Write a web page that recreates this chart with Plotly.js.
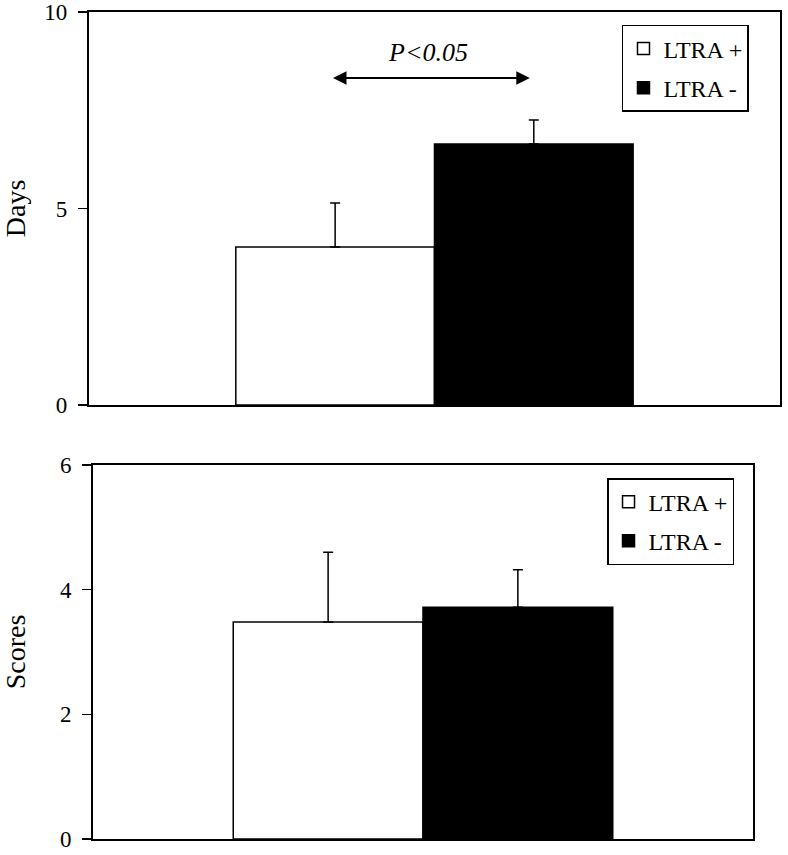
<!DOCTYPE html>
<html><head><meta charset="utf-8">
<script src="https://cdn.plot.ly/plotly-3.0.1.min.js"></script>
<style>body{margin:0;background:#fff}#chart{width:788px;height:855px}</style>
</head><body><div id="chart"></div>
<script>
const groups = ['LTRA +', 'LTRA -'];
const daysMean = [4.02, 6.64];
const daysErr = [1.12, 0.61];
const scoresMean = [3.48, 3.72];
const scoresErr = [1.12, 0.60];
const fills = ['#ffffff', '#000000'];
const category = ['group'];
const pLabel = 'P&lt;0.05';

const serif = 'Liberation Serif, Times New Roman, serif';
const traces = [];
groups.forEach((g, i) => {
  traces.push({
    type: 'bar', x: category, y: [daysMean[i]], name: g,
    xaxis: 'x', yaxis: 'y', legend: 'legend', legendgroup: 'top' + i,
    marker: {color: fills[i], line: {color: '#000', width: 1.5}},
    error_y: {type: 'data', symmetric: false, array: [daysErr[i]], arrayminus: [0],
              color: '#000', thickness: 1.5, width: 5},
    hoverinfo: 'skip'
  });
});
groups.forEach((g, i) => {
  traces.push({
    type: 'bar', x: category, y: [scoresMean[i]], name: g,
    xaxis: 'x2', yaxis: 'y2', legend: 'legend2', legendgroup: 'bot' + i,
    marker: {color: fills[i], line: {color: '#000', width: 1.5}},
    error_y: {type: 'data', symmetric: false, array: [scoresErr[i]], arrayminus: [0],
              color: '#000', thickness: 1.5, width: 5},
    hoverinfo: 'skip'
  });
});

const xBase = {range: [-0.5, 0.5], showticklabels: false, ticks: '', showline: true, mirror: true,
  linecolor: '#000', linewidth: 2, showgrid: false, zeroline: false, fixedrange: true};
const yBase = {ticks: 'outside', ticklen: 9, tickwidth: 1.5, tickcolor: '#000', showline: true,
  mirror: true, linecolor: '#000', linewidth: 2, showgrid: false, zeroline: false, fixedrange: true,
  tickfont: {family: serif, size: 23, color: '#000'}, ticklabelstandoff: 6, tick0: 0};
const legBase = {xref: 'paper', yref: 'paper', xanchor: 'right', yanchor: 'top',
  bordercolor: '#000', borderwidth: 1.5, bgcolor: '#fff',
  font: {family: serif, size: 24, color: '#000'}, traceorder: 'grouped', tracegroupgap: 5};

const layout = {
  width: 788, height: 855, margin: {l: 0, r: 0, t: 0, b: 0},
  paper_bgcolor: '#fff', plot_bgcolor: '#fff',
  barmode: 'group', bargap: 0.425, bargroupgap: 0,
  showlegend: true,
  xaxis: Object.assign({}, xBase, {domain: [0.1129, 0.9898], anchor: 'y'}),
  yaxis: Object.assign({}, yBase, {domain: [0.5263, 0.986], anchor: 'x', range: [0, 10], dtick: 5,
    title: {text: 'Days', font: {family: serif, size: 28, color: '#000'}, standoff: 20}}),
  xaxis2: Object.assign({}, xBase, {domain: [0.118, 0.9556], anchor: 'y2'}),
  yaxis2: Object.assign({}, yBase, {domain: [0.0187, 0.4561], anchor: 'x2', range: [0, 6], dtick: 2,
    title: {text: 'Scores', font: {family: serif, size: 28, color: '#000'}, standoff: 26}}),
  legend: Object.assign({}, legBase, {x: 0.9505, y: 0.9708}),
  legend2: Object.assign({}, legBase, {x: 0.9315, y: 0.4409}),
  annotations: [
    {xref: 'x', yref: 'y', axref: 'x', ayref: 'y', x: 0.138, y: 8.32, ax: -0.149, ay: 8.32,
     text: '', showarrow: true, arrowhead: 2, arrowside: 'end+start', arrowwidth: 1.8,
     arrowsize: 1.5, arrowcolor: '#000', standoff: 0, startstandoff: 0},
    {xref: 'x', yref: 'y', x: -0.009, y: 8.98, text: pLabel, showarrow: false,
     font: {family: serif, size: 26, color: '#000', style: 'italic'}}
  ]
};

Plotly.newPlot('chart', traces, layout, {displayModeBar: false, staticPlot: true});
</script>
</body></html>
